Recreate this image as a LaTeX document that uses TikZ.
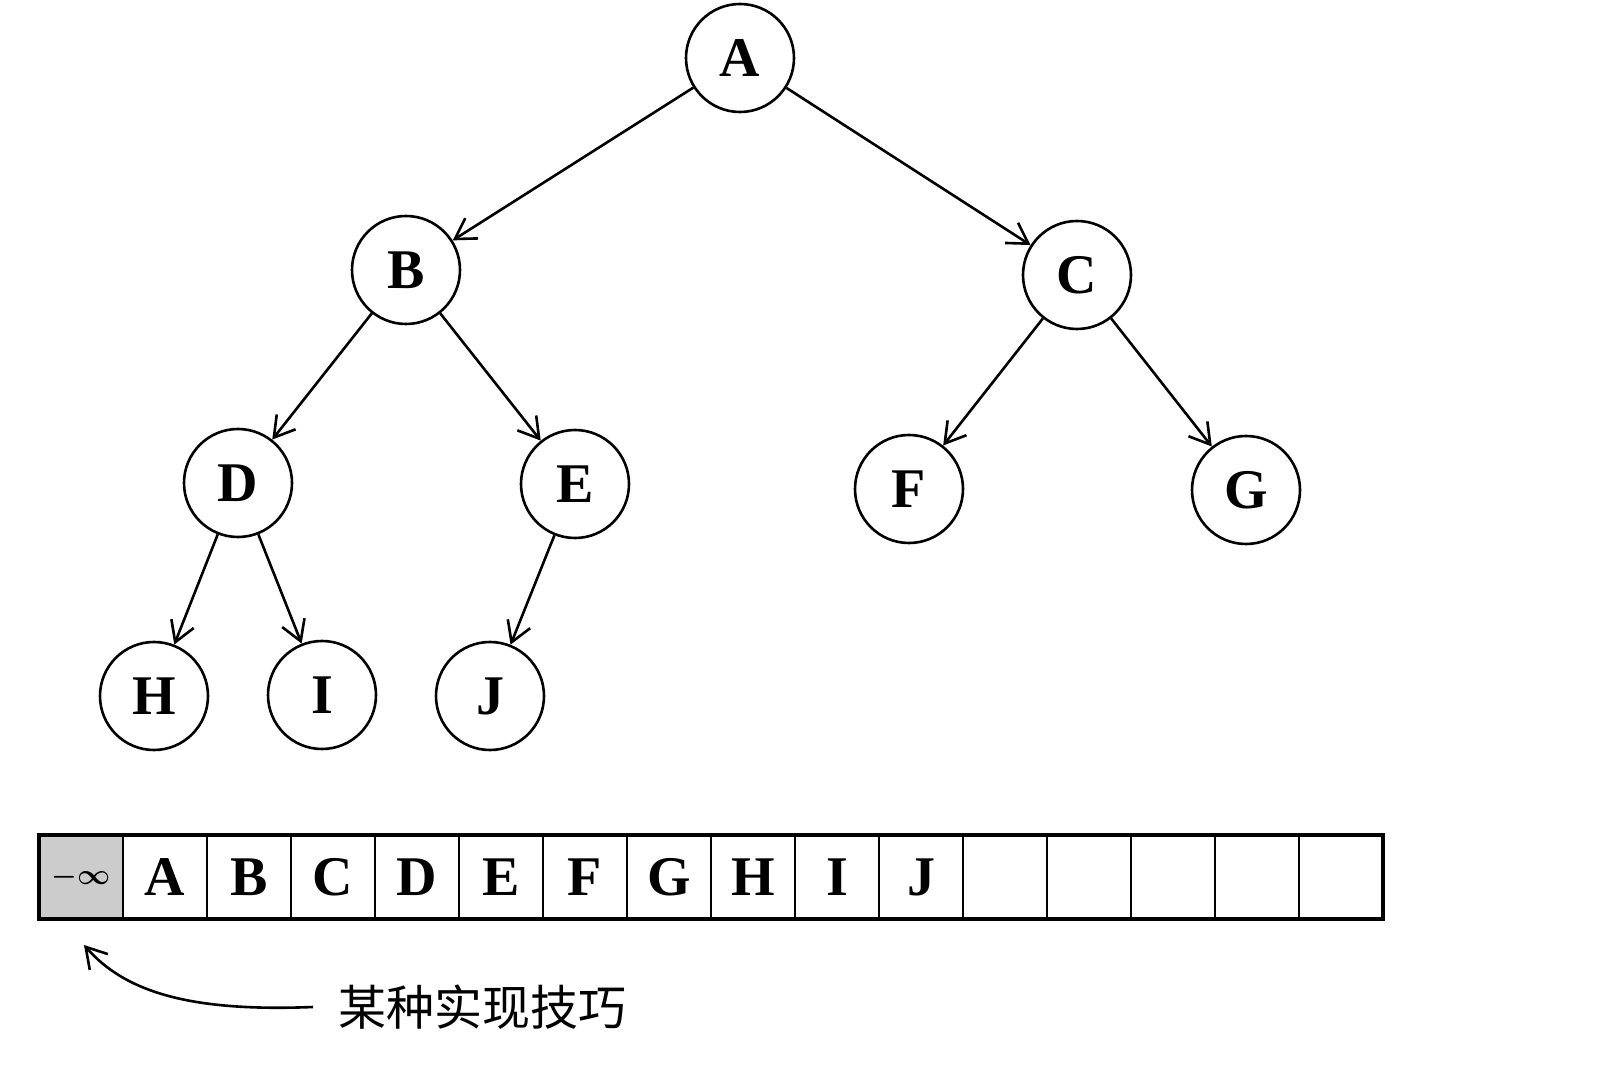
\documentclass[tikz,border=0pt]{standalone}
\usepackage{fontspec}
\setmainfont{Liberation Serif}
\newfontfamily\cjk{Noto Sans CJK SC}
\usetikzlibrary{arrows.meta}
\begin{document}
\begin{tikzpicture}[x=0.5pt,y=-0.5pt,
  tn/.style={circle,draw,line width=1.3pt,minimum size=54pt,inner sep=0pt,
    font=\fontsize{28}{28}\selectfont\bfseries},
  ed/.style={line width=1.3pt,-{Straight Barb[length=10pt,width=12pt]}},
  cell/.style={draw,line width=1.3pt,minimum width=42pt,minimum height=42pt,
    inner sep=0pt,outer sep=0pt,font=\fontsize{28}{28}\selectfont\bfseries}]
\useasboundingbox (0,0) rectangle (1606,1074);
% tree
\node[tn] (nA) at (740,58) {A};
\node[tn] (nB) at (406,270) {B};
\node[tn] (nC) at (1077,275) {C};
\node[tn] (nD) at (238,483) {D};
\node[tn] (nE) at (575,484) {E};
\node[tn] (nF) at (909,489) {F};
\node[tn] (nG) at (1246,490) {G};
\node[tn] (nH) at (154,696) {H};
\node[tn] (nI) at (322,695) {I};
\node[tn] (nJ) at (490,696) {J};
\draw[ed] (nA) -- (nB);
\draw[ed] (nA) -- (nC);
\draw[ed] (nB) -- (nD);
\draw[ed] (nB) -- (nE);
\draw[ed] (nC) -- (nF);
\draw[ed] (nC) -- (nG);
\draw[ed] (nD) -- (nH);
\draw[ed] (nD) -- (nI);
\draw[ed] (nE) -- (nJ);
% array
\node[cell,fill=black!20,font=\fontsize{15}{15}\selectfont\boldmath] (c0) at (81,877) {$-\infty$};
\node[cell] (c1) at (165,877) {A};
\node[cell] (c2) at (249,877) {B};
\node[cell] (c3) at (333,877) {C};
\node[cell] (c4) at (417,877) {D};
\node[cell] (c5) at (501,877) {E};
\node[cell] (c6) at (585,877) {F};
\node[cell] (c7) at (669,877) {G};
\node[cell] (c8) at (753,877) {H};
\node[cell] (c9) at (837,877) {I};
\node[cell] (c10) at (921,877) {J};
\node[cell] (c11) at (1005,877) {};
\node[cell] (c12) at (1089,877) {};
\node[cell] (c13) at (1173,877) {};
\node[cell] (c14) at (1257,877) {};
\node[cell] (c15) at (1341,877) {};
\draw[line width=1.8pt] (c0.north west) rectangle (c15.south east);
% note
\node[anchor=west,inner sep=0pt,font=\cjk\fontsize{24}{24}\selectfont] (txt) at (338,1007) {某种实现技巧};
\coordinate (s) at (313,1007);
\coordinate (t) at (84,945);
\draw[ed] (s) .. controls (190,1012) and (125,992) .. (t);
\end{tikzpicture}
\end{document}
